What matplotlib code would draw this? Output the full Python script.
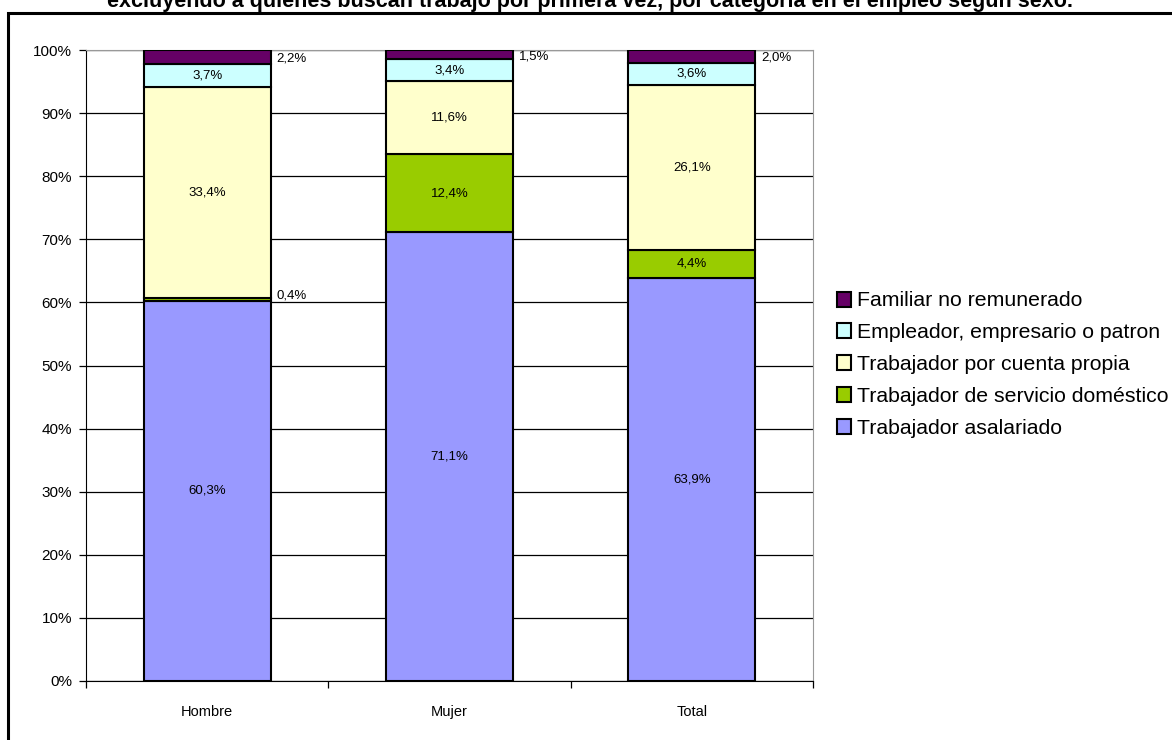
import numpy as np
import matplotlib.pyplot as plt
from matplotlib.patches import Rectangle

plt.rcParams['font.family'] = ['Liberation Sans', 'DejaVu Sans']

# data
categorias = ['Hombre', 'Mujer', 'Total']
series = ['Trabajador asalariado', 'Trabajador de servicio doméstico',
          'Trabajador por cuenta propia', 'Empleador, empresario o patron',
          'Familiar no remunerado']
asalariado = [60.3, 71.1, 63.9]
domestico = [0.4, 12.4, 4.4]
cuenta_propia = [33.4, 11.6, 26.1]
empleador = [3.7, 3.4, 3.6]
familiar = [2.2, 1.5, 2.0]
colores = ['#9999FF', '#99CC00', '#FFFFCC', '#CCFFFF', '#660066']

valores = [asalariado, domestico, cuenta_propia, empleador, familiar]

fig = plt.figure(figsize=(11.72, 7.4), dpi=100)
ax = fig.add_axes([86/1172, (740-681)/740, (813-86)/1172, (681-50)/740])

x = np.arange(len(categorias))
w = 0.525
base = np.zeros(len(categorias))
handles = []
for vals, col, nombre in zip(valores, colores, series):
    vals = np.array(vals)
    b = ax.bar(x, vals, w, bottom=base, color=col, edgecolor='black', linewidth=1.5,
               label=nombre, zorder=3)
    handles.append(b)
    for xi, v, b0 in zip(x, vals, base):
        txt = f'{v:.1f}%'.replace('.', ',')
        if v < 3:
            ax.annotate(txt, (xi + w/2, b0 + v/2), xytext=(4, -1 if b0 > 90 else 3),
                        textcoords='offset points', ha='left', va='center',
                        fontsize=9.5)
        else:
            ax.text(xi, b0 + v/2, txt, ha='center', va='center', fontsize=9.5, zorder=4)
    base = base + vals

ax.set_xlim(-0.5, 2.5)
ax.set_ylim(0, 100)
ax.set_yticks(np.arange(0, 101, 10))
ax.set_yticklabels([f'{v}%' for v in range(0, 101, 10)], fontsize=11)
ax.yaxis.grid(True, color='black', linewidth=0.9, zorder=0)
ax.set_axisbelow(True)
ax.set_xticks(x)
ax.set_xticklabels(categorias, fontsize=10.5)
ax.set_xticks([-0.5, 0.5, 1.5, 2.5], minor=True)
ax.tick_params(axis='x', which='major', length=0, pad=17)
ax.tick_params(axis='x', which='minor', length=5, width=0.9, color='black')
ax.tick_params(axis='y', length=5, width=0.9, pad=5)
ax.spines['top'].set_color('#999999')
ax.spines['right'].set_color('#999999')
ax.spines['left'].set_color('black')
ax.spines['bottom'].set_color('black')

leg = fig.legend(handles[::-1], series[::-1], loc='upper left',
                 bbox_to_anchor=(828/1172, 1 - 283/740), frameon=False,
                 fontsize=15.3, handlelength=0.7, handleheight=0.7,
                 handletextpad=0.25, labelspacing=0.6, borderaxespad=0)

fig.text(590/1172, 1 - 7/740,
         'excluyendo a quienes buscan trabajo por primera vez, por categoría en el empleo según sexo.',
         ha='center', va='baseline', fontsize=15.5, fontweight='bold')

fig.patches.append(Rectangle((8/1172, -0.1), 1.2, 1.1 - 13/740, transform=fig.transFigure,
                             fill=False, edgecolor='black', linewidth=2.2))

fig.savefig('out.png', dpi=100)
